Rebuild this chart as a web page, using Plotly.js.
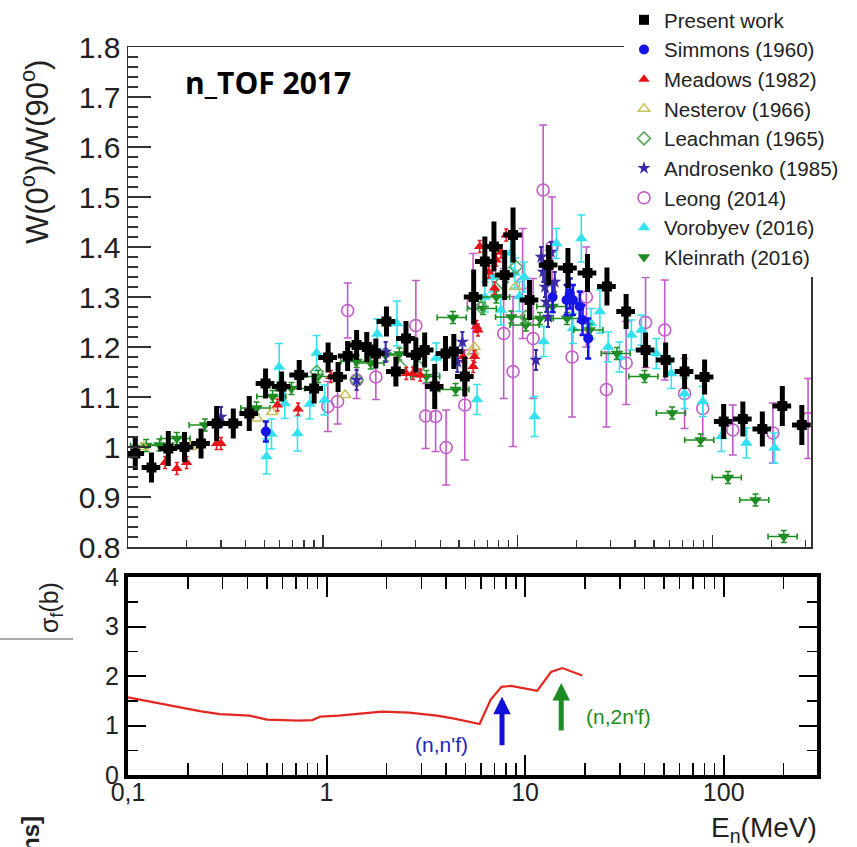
<!DOCTYPE html>
<html><head><meta charset="utf-8">
<script src="https://cdn.plot.ly/plotly-3.0.1.min.js"></script>
<style>html,body{margin:0;padding:0;background:#fff}#chart{width:857px;height:847px}</style>
</head><body><div id="chart"></div><script>
// ---------- data: W(0)/W(90) ----------
const presentE = [0.109,0.132,0.161,0.195,0.237,0.285,0.347,0.419,0.508,0.614,0.756,0.902,1.064,1.197,1.34,1.49,1.68,1.87,2.12,2.37,2.67,3.0,3.33,3.75,4.26,4.7,5.35,5.94,6.78,7.55,8.57,9.46,11.5,14.4,18.1,22.8,28.7,36,45.3,57.4,71.8,91,114,143,180,228,287];
const presentW = [0.987,0.959,0.997,1.0,1.007,1.047,1.047,1.067,1.127,1.121,1.144,1.117,1.179,1.14,1.182,1.204,1.2,1.187,1.251,1.151,1.217,1.184,1.194,1.121,1.187,1.191,1.141,1.30,1.371,1.401,1.344,1.424,1.294,1.364,1.358,1.348,1.321,1.271,1.194,1.174,1.151,1.14,1.051,1.056,1.036,1.082,1.044];
const presentErr = [0.033,0.03,0.035,0.03,0.03,0.035,0.03,0.035,0.03,0.03,0.03,0.03,0.03,0.03,0.03,0.03,0.03,0.03,0.03,0.03,0.035,0.035,0.035,0.045,0.035,0.035,0.04,0.055,0.05,0.05,0.05,0.055,0.04,0.04,0.04,0.038,0.038,0.035,0.035,0.035,0.035,0.035,0.035,0.035,0.035,0.04,0.04];

const simmonsE = [0.51,15.1,17.8,18.5,19.2,20.8,21.5,23.0];
const simmonsW = [1.031,1.30,1.294,1.307,1.294,1.281,1.254,1.217];
const simmonsErr = [0.02,0.03,0.03,0.03,0.03,0.03,0.03,0.04];

const meadowsE = [0.155,0.178,0.2,0.285,0.3,0.585,0.746,1.1,2.68,2.9,3.16,5.24,5.9,6.0,6.14,6.25,6.38,7.1,7.6,7.76,8.2,8.73];
const meadowsW = [0.969,0.957,0.969,1.007,1.007,1.084,1.076,1.141,1.147,1.147,1.144,1.181,1.161,1.181,1.241,1.234,1.401,1.35,1.318,1.374,1.39,1.424];

const nesterovE = [0.12,0.21,0.46,0.55,1.3,5.9,6.0,9.7];
const nesterovW = [1.0,1.0,1.057,1.07,1.104,1.19,1.2,1.32];

const leachmanE = [0.93,1.49,2.5,3.1,6.5,8.3,9.8,11];
const leachmanW = [1.15,1.134,1.16,1.16,1.28,1.33,1.36,1.26];

const androsenkoE = [0.3,1.49,2.1,4.9,5.2,12.4,13.2,13.5,13.8,14.0,14.3,14.8,15.5];
const androsenkoW = [1.06,1.134,1.19,1.17,1.21,1.174,1.38,1.35,1.32,1.29,1.26,1.39,1.33];

const leongE = [1.06,1.19,1.34,1.49,1.87,3.0,3.37,3.79,4.29,5.35,5.9,8.47,9.46,10.6,12.0,13.5,15.0,19.0,22.5,28.5,36,45.3,56.8,71.8,89,127,204,309];
const leongW = [1.081,1.091,1.273,1.134,1.14,1.243,1.062,1.061,0.999,1.084,1.287,1.227,1.151,1.327,1.217,1.514,1.40,1.18,1.30,1.115,1.168,1.249,1.234,1.107,1.077,1.034,1.028,1.057];
const leongErr = [0.05,0.045,0.055,0.037,0.045,0.09,0.065,0.07,0.075,0.11,0.1,0.13,0.15,0.11,0.12,0.13,0.1,0.12,0.1,0.075,0.083,0.09,0.1,0.07,0.06,0.05,0.06,0.08];

const vorobyevE = [0.514,0.545,0.597,0.638,0.741,0.857,0.929,1.02,1.9,2.4,3.82,6.18,6.78,7.41,8.19,9.2,9.67,10.2,10.8,12.2,13.6,15.8,19.2,21.2,23.8,26.4,29.1,33.3,38.3,43.1,51.4,61.4,71.8,89,111,149,208];
const vorobyevW = [0.981,1.026,1.16,1.087,1.027,1.086,1.188,1.094,1.226,1.247,1.178,1.095,1.30,1.34,1.274,1.388,1.348,1.301,1.34,1.061,1.211,1.407,1.237,1.417,1.247,1.271,1.2,1.18,1.224,1.234,1.187,1.147,1.107,1.091,1.021,1.008,0.998];
const vorobyevErr = [0.035,0.03,0.047,0.03,0.035,0.03,0.035,0.03,0.03,0.045,0.03,0.03,0.03,0.03,0.03,0.03,0.03,0.03,0.03,0.04,0.03,0.03,0.03,0.047,0.03,0.043,0.03,0.03,0.03,0.03,0.03,0.03,0.03,0.03,0.03,0.03,0.03];

const kleinrathE = [0.124,0.145,0.178,0.248,0.457,0.552,0.69,0.946,1.49,1.76,2.1,2.47,3.4,4.65,4.8,6.64,7.76,9.27,11,13,15.1,17.9,23.4,32.3,44.8,62,86.7,120,166,232];
const kleinrathW = [1.003,1.004,1.017,1.044,1.078,1.101,1.117,1.141,1.171,1.168,1.184,1.186,1.141,1.259,1.115,1.277,1.30,1.26,1.244,1.257,1.281,1.257,1.234,1.187,1.141,1.068,1.014,0.939,0.894,0.821];

// ---------- data: fission cross section ----------
const sigmaE = [0.1,0.13,0.17,0.23,0.29,0.41,0.5,0.73,0.85,0.93,1.15,1.9,2.6,3.6,4.4,5.6,5.9,6.7,7.6,8.5,11.5,13.5,15.4,19.4];
const sigmaF = [1.57,1.48,1.39,1.29,1.23,1.2,1.12,1.1,1.11,1.18,1.2,1.28,1.26,1.2,1.14,1.06,1.03,1.52,1.78,1.8,1.7,2.08,2.16,2.01];

// thresholds arrows (E, tail, head)
const arrowE = [7.65, 15.2];
const arrowTail = [0.57, 0.87];
const arrowHead = [1.58, 1.86];
const arrowLabels = ["(n,n'f)", "(n,2n'f)"];

// tick labels
const topYTicks = [0.8,0.9,1.0,1.1,1.2,1.3,1.4,1.5,1.6,1.7,1.8];
const topYText = ["0.8","0.9","1","1.1","1.2","1.3","1.4","1.5","1.6","1.7","1.8"];
const xTicks = [0.1,1,10,100];
const xTickText = ["0,1","1","10","100"];
const bottomYTicks = [0,1,2,3,4];

const FONT = "Liberation Sans, Arial, Helvetica, sans-serif";
const minorLog = [];
[0.1,1,10,100].forEach(d => { for (let k=2;k<=9;k++){ if (d*k<=320) minorLog.push(d*k); } });

function scat(name, rank, E, W, opts) {
  const t = {
    type:'scatter', mode:'markers', name:name, x:E, y:W, xaxis:'x', yaxis:'y',
    legendrank: rank, legendgroup: name, cliponaxis: true,
    marker: opts.marker
  };
  if (opts.ey) t.error_y = opts.ey;
  if (opts.ex) t.error_x = opts.ex;
  return t;
}

const cLeong = '#c25ac8', cVoro = '#33e2ee', cKlein = '#1e8c22', cMead = '#e8141c',
      cSim = '#1414e6', cAnd = '#3b2aa8', cNest = '#c9c25a', cLeach = '#5aa860';

const traces = [
  scat('Leong (2014)', 7, leongE, leongW, {
    marker:{symbol:'circle-open', size:12, color:cLeong, line:{width:1.6}},
    ey:{type:'data', array:leongErr, color:cLeong, thickness:1.6, width:4}}),
  scat('Vorobyev (2016)', 8, vorobyevE, vorobyevW, {
    marker:{symbol:'triangle-up', size:11, color:cVoro},
    ey:{type:'data', array:vorobyevErr, color:cVoro, thickness:1.6, width:4}}),
  scat('Kleinrath (2016)', 9, kleinrathE, kleinrathW, {
    marker:{symbol:'triangle-down', size:11, color:cKlein},
    ey:{type:'constant', value:0.012, color:cKlein, thickness:1.5, width:3},
    ex:{type:'percent', value:17, color:cKlein, thickness:1.6, width:3}}),
  scat('Leachman (1965)', 5, leachmanE, leachmanW, {
    marker:{symbol:'diamond-open', size:10, color:cLeach, line:{width:1.6}}}),
  scat('Nesterov (1966)', 4, nesterovE, nesterovW, {
    marker:{symbol:'triangle-up-open', size:10, color:cNest, line:{width:1.6}}}),
  scat('Meadows (1982)', 3, meadowsE, meadowsW, {
    marker:{symbol:'triangle-up', size:10, color:cMead},
    ey:{type:'constant', value:0.012, color:cMead, thickness:1.5, width:2}}),
  scat('Simmons (1960)', 2, simmonsE, simmonsW, {
    marker:{symbol:'circle', size:10, color:cSim},
    ey:{type:'data', array:simmonsErr, color:cSim, thickness:2.5, width:3}}),
  scat('Androsenko (1985)', 6, androsenkoE, androsenkoW, {
    marker:{symbol:'star', size:10, color:cAnd},
    ey:{type:'constant', value:0.02, color:cAnd, thickness:2, width:2}}),
  scat('Present work', 1, presentE, presentW, {
    marker:{symbol:'square', size:10, color:'#000'},
    ey:{type:'data', array:presentErr, color:'#000', thickness:5, width:0},
    ex:{type:'percent', value:11, color:'#000', thickness:5, width:0}}),
  {type:'scatter', mode:'lines', x:sigmaE, y:sigmaF, xaxis:'x2', yaxis:'y2', showlegend:false,
   line:{color:'#e3261f', width:2.2}}
];

const P = (px) => px/857, Q = (py) => 1 - py/847;

const annotations = [
  {xref:'paper', yref:'paper', x:P(183), y:Q(82), xanchor:'left', yanchor:'middle', showarrow:false,
   text:'<b>n_TOF 2017</b>', font:{family:'Open Sans, Noto Sans, sans-serif', size:30, color:'#000'}},
  {xref:'paper', yref:'paper', x:P(35), y:Q(152), xanchor:'center', yanchor:'middle', showarrow:false,
   textangle:-90, text:'W(0<sup>o</sup>)/W(90<sup>o</sup>)', font:{family:FONT, size:31, color:'#222'}},
  {xref:'paper', yref:'paper', x:P(51), y:Q(608), xanchor:'center', yanchor:'middle', showarrow:false,
   textangle:-90, text:'σ<sub>f</sub>(b)', font:{family:FONT, size:25, color:'#222'}},
  {xref:'paper', yref:'paper', x:P(819), y:Q(829), xanchor:'right', yanchor:'middle', showarrow:false,
   text:'E<sub>n</sub>(MeV)', font:{family:FONT, size:28, color:'#222'}},
  {xref:'paper', yref:'paper', x:P(441), y:Q(744), xanchor:'center', yanchor:'middle', showarrow:false,
   text:arrowLabels[0], font:{family:FONT, size:21, color:'#2424c0'}},
  {xref:'paper', yref:'paper', x:P(618), y:Q(716), xanchor:'center', yanchor:'middle', showarrow:false,
   text:arrowLabels[1], font:{family:FONT, size:21, color:'#1e8c22'}},
  {xref:'paper', yref:'paper', x:P(30), y:Q(838), xanchor:'center', yanchor:'middle', showarrow:false,
   textangle:-90, text:'<b>[ns]</b>', font:{family:FONT, size:24, color:'#222'}}
];
const arrowColors = ['#1010d8', '#1e8c22'];
arrowE.forEach((e,i) => {
  annotations.push({xref:'x2', yref:'y2', axref:'x2', ayref:'y2',
    x:Math.log10(e), y:arrowHead[i], ax:Math.log10(e), ay:arrowTail[i],
    text:'', showarrow:true, arrowhead:2, arrowsize:0.7, arrowwidth:5, arrowcolor:arrowColors[i]});
});

const tickFont = {family:FONT, size:30, color:'#222'};
const layout = {
  width:857, height:847, margin:{l:0,r:0,t:0,b:0}, paper_bgcolor:'#fff', plot_bgcolor:'rgba(0,0,0,0)',
  showlegend:true,
  legend:{x:P(624), xanchor:'left', y:1, yanchor:'top', bgcolor:'#fff', borderwidth:0,
    traceorder:'grouped', tracegroupgap:0,
    font:{family:FONT, size:20.5, color:'#222'}},
  xaxis:{domain:[P(128), P(811)], type:'log', range:[-1, 2.505], anchor:'y',
    showticklabels:false, ticks:'inside', tickvals:xTicks, ticklen:12, tickwidth:1.5, tickcolor:'#333',
    minor:{ticks:'inside', tickvals:minorLog, ticklen:7, tickwidth:1.2, tickcolor:'#333'},
    showline:true, linecolor:'#333', linewidth:1.5, mirror:true, showgrid:false, zeroline:false},
  yaxis:{domain:[Q(547), Q(47)], range:[0.8,1.8], anchor:'x',
    tickvals:topYTicks, ticktext:topYText, ticks:'inside', ticklen:23, tickwidth:1.5, tickcolor:'#333',
    minor:{ticks:'inside', dtick:0.02, ticklen:10, tickwidth:1.2, tickcolor:'#333'},
    tickfont:tickFont, showline:true, linecolor:'#333', linewidth:1.5, mirror:true,
    showgrid:false, zeroline:false},
  xaxis2:{domain:[P(128), P(817)], type:'log', range:[-1, 2.47], anchor:'y2',
    tickvals:xTicks, ticktext:xTickText, ticks:'inside', ticklen:20, tickwidth:2, tickcolor:'#000',
    ticklabelstandoff:-8,
    minor:{ticks:'inside', tickvals:minorLog, ticklen:12, tickwidth:1.5, tickcolor:'#000'},
    tickfont:{family:FONT, size:25, color:'#222'},
    showline:true, linecolor:'#000', linewidth:4, mirror:'allticks', showgrid:false, zeroline:false},
  yaxis2:{domain:[Q(775), Q(577)], range:[0,4], anchor:'x2',
    tickvals:bottomYTicks, ticks:'inside', ticklen:18, tickwidth:2, tickcolor:'#000',
    minor:{ticks:'inside', dtick:0.5, ticklen:10, tickwidth:1.5, tickcolor:'#000'},
    tickfont:{family:FONT, size:25, color:'#222'},
    showline:true, linecolor:'#000', linewidth:4, mirror:'allticks', showgrid:false, zeroline:false},
  shapes:[{type:'line', xref:'paper', yref:'paper', x0:0, x1:P(73), y0:Q(639), y1:Q(639),
    line:{color:'#aaaaaa', width:2}}],
  annotations:annotations
};

Plotly.newPlot('chart', traces, layout, {displayModeBar:false, staticPlot:true});
</script></body></html>
